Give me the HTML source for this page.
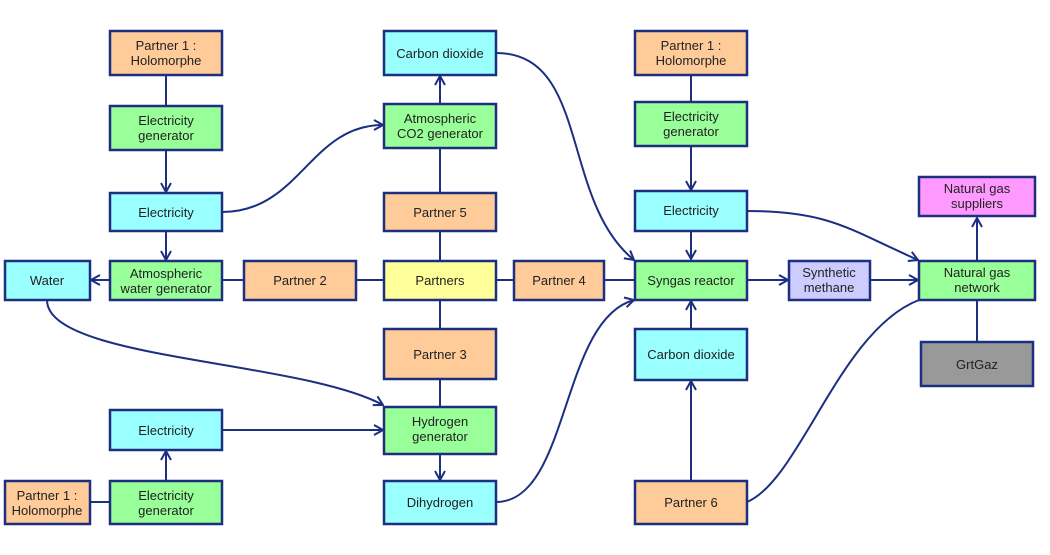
<!DOCTYPE html>
<html><head><meta charset="utf-8"><style>
body{margin:0;background:#fff}
svg text{font-family:"Liberation Sans",Arial,sans-serif;font-size:13px;fill:#222;text-anchor:middle}
.b{stroke:#1c2f80;stroke-width:2.5}
.l{stroke:#1c2f80;stroke-width:2;fill:none}
</style></head><body>
<svg width="1050" height="550" xmlns="http://www.w3.org/2000/svg">
<defs><marker id="a" viewBox="0 0 12 12" refX="11" refY="6" markerWidth="12" markerHeight="12" markerUnits="userSpaceOnUse" orient="auto"><path d="M2,1 L11,6 L2,11" fill="none" stroke="#1c2f80" stroke-width="2"/></marker></defs>
<g class="l">
<line x1="166" y1="75" x2="166" y2="106"/>
<line x1="166" y1="150" x2="166" y2="192" marker-end="url(#a)"/>
<line x1="166" y1="231" x2="166" y2="260" marker-end="url(#a)"/>
<path d="M222,212 C300,212 310,125 383,125" marker-end="url(#a)"/>
<line x1="110" y1="280" x2="91" y2="280" marker-end="url(#a)"/>
<line x1="222" y1="280" x2="244" y2="280"/>
<line x1="356" y1="280" x2="384" y2="280"/>
<line x1="496" y1="280" x2="514" y2="280"/>
<line x1="604" y1="280" x2="635" y2="280"/>
<line x1="440" y1="104" x2="440" y2="76" marker-end="url(#a)"/>
<line x1="440" y1="148" x2="440" y2="193"/>
<line x1="440" y1="231" x2="440" y2="261"/>
<line x1="440" y1="300" x2="440" y2="329"/>
<line x1="440" y1="379" x2="440" y2="407"/>
<line x1="440" y1="454" x2="440" y2="480" marker-end="url(#a)"/>
<path d="M47,300 C47,360 300,360 383,405" marker-end="url(#a)"/>
<line x1="222" y1="430" x2="383" y2="430" marker-end="url(#a)"/>
<line x1="166" y1="481" x2="166" y2="451" marker-end="url(#a)"/>
<line x1="90" y1="502" x2="110" y2="502"/>
<path d="M496,53 C590,53 560,200 634,260" marker-end="url(#a)"/>
<path d="M496,502 C570,502 560,320 634,300" marker-end="url(#a)"/>
<line x1="691" y1="75" x2="691" y2="102"/>
<line x1="691" y1="146" x2="691" y2="190" marker-end="url(#a)"/>
<line x1="691" y1="231" x2="691" y2="259" marker-end="url(#a)"/>
<line x1="691" y1="329" x2="691" y2="301" marker-end="url(#a)"/>
<line x1="691" y1="481" x2="691" y2="381" marker-end="url(#a)"/>
<line x1="747" y1="280" x2="788" y2="280" marker-end="url(#a)"/>
<line x1="870" y1="280" x2="918" y2="280" marker-end="url(#a)"/>
<path d="M747,211 C830,211 850,230 918,260" marker-end="url(#a)"/>
<path d="M747,502 C800,480 840,330 919,300"/>
<line x1="977" y1="260" x2="977" y2="218" marker-end="url(#a)"/>
<line x1="977" y1="300" x2="977" y2="342"/>
</g>
<g class="b">
<rect x="110" y="31" width="112" height="44" fill="#ffcc99"/>
<rect x="110" y="106" width="112" height="44" fill="#99ff99"/>
<rect x="110" y="193" width="112" height="38" fill="#99ffff"/>
<rect x="110" y="261" width="112" height="39" fill="#99ff99"/>
<rect x="5" y="261" width="85" height="39" fill="#99ffff"/>
<rect x="244" y="261" width="112" height="39" fill="#ffcc99"/>
<rect x="384" y="261" width="112" height="39" fill="#ffff99"/>
<rect x="514" y="261" width="90" height="39" fill="#ffcc99"/>
<rect x="635" y="261" width="112" height="39" fill="#99ff99"/>
<rect x="789" y="261" width="81" height="39" fill="#ccccff"/>
<rect x="919" y="261" width="116" height="39" fill="#99ff99"/>
<rect x="919" y="177" width="116" height="39" fill="#ff99ff"/>
<rect x="921" y="342" width="112" height="44" fill="#999999"/>
<rect x="384" y="31" width="112" height="44" fill="#99ffff"/>
<rect x="384" y="104" width="112" height="44" fill="#99ff99"/>
<rect x="384" y="193" width="112" height="38" fill="#ffcc99"/>
<rect x="384" y="329" width="112" height="50" fill="#ffcc99"/>
<rect x="384" y="407" width="112" height="47" fill="#99ff99"/>
<rect x="384" y="481" width="112" height="43" fill="#99ffff"/>
<rect x="110" y="410" width="112" height="40" fill="#99ffff"/>
<rect x="110" y="481" width="112" height="43" fill="#99ff99"/>
<rect x="5" y="481" width="85" height="43" fill="#ffcc99"/>
<rect x="635" y="31" width="112" height="44" fill="#ffcc99"/>
<rect x="635" y="102" width="112" height="44" fill="#99ff99"/>
<rect x="635" y="191" width="112" height="40" fill="#99ffff"/>
<rect x="635" y="329" width="112" height="51" fill="#99ffff"/>
<rect x="635" y="481" width="112" height="43" fill="#ffcc99"/>
</g>
<g>
<text x="166" y="50">Partner 1 :</text><text x="166" y="65">Holomorphe</text>
<text x="166" y="125">Electricity</text><text x="166" y="140">generator</text>
<text x="166" y="217">Electricity</text>
<text x="166" y="278">Atmospheric</text><text x="166" y="293">water generator</text>
<text x="47" y="285">Water</text>
<text x="300" y="285">Partner 2</text>
<text x="440" y="285">Partners</text>
<text x="559" y="285">Partner 4</text>
<text x="691" y="285">Syngas reactor</text>
<text x="829" y="277">Synthetic</text><text x="829" y="292">methane</text>
<text x="977" y="277">Natural gas</text><text x="977" y="292">network</text>
<text x="977" y="193">Natural gas</text><text x="977" y="208">suppliers</text>
<text x="977" y="369">GrtGaz</text>
<text x="440" y="58">Carbon dioxide</text>
<text x="440" y="123">Atmospheric</text><text x="440" y="138">CO2 generator</text>
<text x="440" y="217">Partner 5</text>
<text x="440" y="359">Partner 3</text>
<text x="440" y="426">Hydrogen</text><text x="440" y="441">generator</text>
<text x="440" y="507">Dihydrogen</text>
<text x="166" y="435">Electricity</text>
<text x="166" y="500">Electricity</text><text x="166" y="515">generator</text>
<text x="47" y="500">Partner 1 :</text><text x="47" y="515">Holomorphe</text>
<text x="691" y="50">Partner 1 :</text><text x="691" y="65">Holomorphe</text>
<text x="691" y="121">Electricity</text><text x="691" y="136">generator</text>
<text x="691" y="215">Electricity</text>
<text x="691" y="359">Carbon dioxide</text>
<text x="691" y="507">Partner 6</text>
</g>
</svg>
</body></html>
